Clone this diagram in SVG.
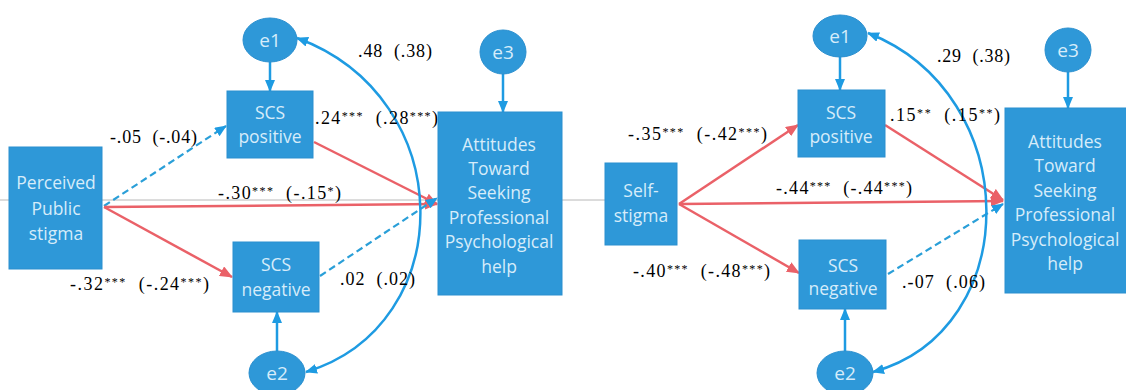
<svg xmlns="http://www.w3.org/2000/svg" width="1126" height="390" viewBox="0 0 1126 390">
<style>
.box{fill:#2e98d8;stroke:#2a8fcf;stroke-width:1}
.ell{fill:#2e98d8;stroke:#2a8fcf;stroke-width:1}
.bt{font-family:"Open Sans","Liberation Sans",sans-serif;font-size:17.5px;fill:#d6ecfa;text-anchor:middle}
.et{font-family:"Open Sans","Liberation Sans",sans-serif;font-size:19px;fill:#d6ecfa;text-anchor:middle}
.lb{font-family:"Liberation Serif",serif;font-size:18px;fill:#000;white-space:pre}
.s{font-size:12px;baseline-shift:4px}
.red{stroke:#ea6168;stroke-width:2.5;fill:none;marker-end:url(#ar)}
.blu{stroke:#1e9be2;stroke-width:2.5;fill:none;marker-end:url(#ab)}
.dash{stroke:#2a9fd8;stroke-width:2.2;fill:none;stroke-dasharray:7 4;marker-end:url(#ab)}
.cur{stroke:#1e9be2;stroke-width:2.5;fill:none;marker-start:url(#ab2);marker-end:url(#ab)}
</style>
<defs>
<marker id="ar" markerUnits="userSpaceOnUse" markerWidth="13" markerHeight="11" refX="12" refY="5.5" orient="auto"><path d="M0,0 L13,5.5 L0,11 Z" fill="#ea6168"/></marker>
<marker id="ab" markerUnits="userSpaceOnUse" markerWidth="12" markerHeight="10" refX="11" refY="5" orient="auto"><path d="M0,0 L12,5 L0,10 Z" fill="#1e9be2"/></marker>
<marker id="ab2" markerUnits="userSpaceOnUse" markerWidth="12" markerHeight="10" refX="11" refY="5" orient="auto-start-reverse"><path d="M0,0 L12,5 L0,10 Z" fill="#1e9be2"/></marker>
</defs>
<rect width="1126" height="390" fill="#ffffff"/>
<line x1="0" y1="200" x2="606" y2="200" stroke="#b8b8b8" stroke-width="1"/>

<g id="connectors">
<line class="blu" x1="270" y1="62" x2="270" y2="91"/>
<line class="blu" x1="503" y1="74" x2="503" y2="112"/>
<line class="blu" x1="277" y1="351" x2="277" y2="312"/>
<line class="dash" x1="104" y1="206" x2="226" y2="126"/>
<line class="red" x1="104" y1="207" x2="232" y2="277"/>
<line class="red" x1="104" y1="207" x2="437" y2="204"/>
<line class="red" x1="314" y1="142" x2="437" y2="204"/>
<line class="dash" x1="320" y1="276" x2="437" y2="198"/>
<path class="cur" d="M306,372 C460,325 460,98 297,38"/>
<line class="blu" x1="840" y1="57" x2="840" y2="90"/>
<line class="blu" x1="1068" y1="72" x2="1068" y2="108"/>
<line class="blu" x1="845" y1="351" x2="845" y2="309"/>
<line class="red" x1="679" y1="204" x2="798" y2="125"/>
<line class="red" x1="679" y1="204" x2="799" y2="273"/>
<line class="red" x1="679" y1="204" x2="1003" y2="201"/>
<line class="red" x1="885" y1="125" x2="1003" y2="200"/>
<line class="dash" x1="888" y1="274" x2="1003" y2="204"/>
<path class="cur" d="M873,372 C1025,330 1025,95 868,33"/>
</g>

<g id="labels">
<text class="lb" x="110" y="143" textLength="87">-.05  (-.04)</text>
<text class="lb" x="358" y="57" textLength="74">.48  (.38)</text>
<text class="lb" x="315" y="124" textLength="123">.24<tspan class="s">***</tspan>  (.28<tspan class="s">***</tspan>)</text>
<text class="lb" x="218" y="199" textLength="123">-.30<tspan class="s">***</tspan>  (-.15<tspan class="s">*</tspan>)</text>
<text class="lb" x="70" y="290" textLength="139">-.32<tspan class="s">***</tspan>  (-.24<tspan class="s">***</tspan>)</text>
<text class="lb" x="340" y="285" textLength="75">.02  (.02)</text>
<text class="lb" x="628" y="140" textLength="139">-.35<tspan class="s">***</tspan>  (-.42<tspan class="s">***</tspan>)</text>
<text class="lb" x="937" y="62" textLength="73">.29  (.38)</text>
<text class="lb" x="890" y="121" textLength="110">.15<tspan class="s">**</tspan>  (.15<tspan class="s">**</tspan>)</text>
<text class="lb" x="776" y="194" textLength="136">-.44<tspan class="s">***</tspan>  (-.44<tspan class="s">***</tspan>)</text>
<text class="lb" x="633" y="277" textLength="137">-.40<tspan class="s">***</tspan>  (-.48<tspan class="s">***</tspan>)</text>
<text class="lb" x="902" y="288" textLength="83">.-07  (.06)</text>
</g>

<g id="L_stigma"><rect class="box" x="9" y="147" width="93" height="122"/>
<text class="bt" x="56" y="189">Perceived</text><text class="bt" x="56" y="215">Public</text><text class="bt" x="56" y="240">stigma</text></g>
<g id="L_scspos"><rect class="box" x="227" y="91" width="86" height="67"/>
<text class="bt" x="270" y="119">SCS</text><text class="bt" x="270" y="143">positive</text></g>
<g id="L_scsneg"><rect class="box" x="233" y="242" width="86" height="70"/>
<text class="bt" x="276" y="271">SCS</text><text class="bt" x="276" y="296">negative</text></g>
<g id="L_att"><rect class="box" x="438" y="112" width="124" height="183"/>
<text class="bt" x="499" y="151">Attitudes</text><text class="bt" x="499" y="175">Toward</text><text class="bt" x="499" y="199">Seeking</text><text class="bt" x="499" y="224">Professional</text><text class="bt" x="499" y="248">Psychological</text><text class="bt" x="499" y="273">help</text></g>
<g id="L_e1"><ellipse class="ell" cx="270" cy="40" rx="27" ry="22"/><text class="et" x="270" y="47">e1</text></g>
<g id="L_e2"><ellipse class="ell" cx="277" cy="373" rx="28" ry="22"/><text class="et" x="277" y="380">e2</text></g>
<g id="L_e3"><ellipse class="ell" cx="503" cy="52" rx="23" ry="22"/><text class="et" x="503" y="59">e3</text></g>

<g id="R_stigma"><rect class="box" x="605" y="163" width="72" height="82"/>
<text class="bt" x="641" y="197">Self-</text><text class="bt" x="641" y="222">stigma</text></g>
<g id="R_scspos"><rect class="box" x="798" y="90" width="87" height="67"/>
<text class="bt" x="841" y="119">SCS</text><text class="bt" x="841" y="143">positive</text></g>
<g id="R_scsneg"><rect class="box" x="799" y="240" width="87" height="69"/>
<text class="bt" x="843" y="272">SCS</text><text class="bt" x="843" y="295">negative</text></g>
<g id="R_att"><rect class="box" x="1005" y="108" width="125" height="185"/>
<text class="bt" x="1065" y="148">Attitudes</text><text class="bt" x="1065" y="172">Toward</text><text class="bt" x="1065" y="197">Seeking</text><text class="bt" x="1065" y="221">Professional</text><text class="bt" x="1065" y="246">Psychological</text><text class="bt" x="1065" y="270">help</text></g>
<g id="R_e1"><ellipse class="ell" cx="840" cy="36" rx="27" ry="21"/><text class="et" x="840" y="43">e1</text></g>
<g id="R_e2"><ellipse class="ell" cx="845" cy="373" rx="28" ry="22"/><text class="et" x="845" y="380">e2</text></g>
<g id="R_e3"><ellipse class="ell" cx="1068" cy="50" rx="23" ry="22"/><text class="et" x="1068" y="57">e3</text></g>
</svg>
